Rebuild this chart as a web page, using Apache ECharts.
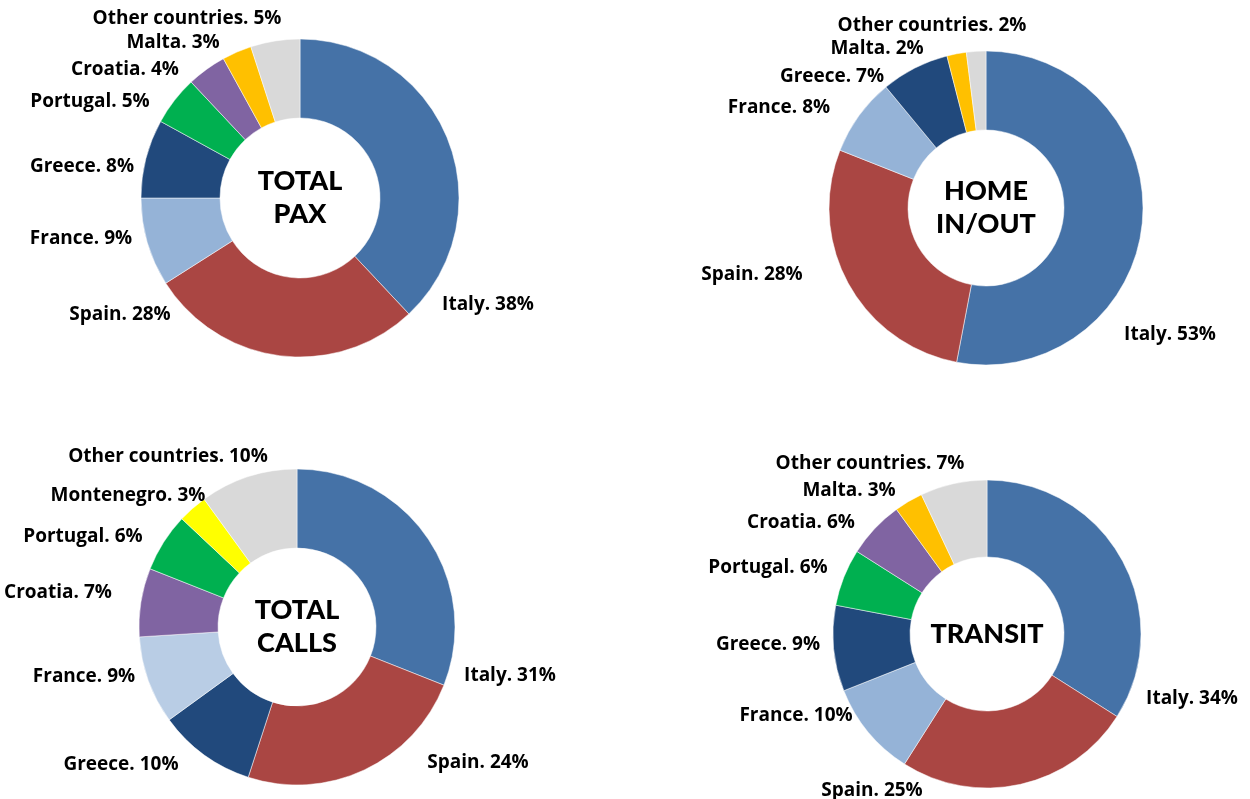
<!DOCTYPE html>
<html>
<head>
<meta charset="utf-8">
<script src="https://cdn.jsdelivr.net/npm/echarts@6/dist/echarts.min.js"></script>
<style>
html,body{margin:0;padding:0;background:#fff;}
#chart{width:1250px;height:799px;}
</style>
</head>
<body>
<div id="chart"></div>
<script>
// ---- data ----
const paxCountries = ['Italy', 'Spain', 'France', 'Greece', 'Portugal', 'Croatia', 'Malta', 'Other countries'];
const paxValues = [38, 28, 9, 8, 5, 4, 3, 5];

const homeCountries = ['Italy', 'Spain', 'France', 'Greece', 'Malta', 'Other countries'];
const homeValues = [53, 28, 8, 7, 2, 2];

const callsCountries = ['Italy', 'Spain', 'Greece', 'France', 'Croatia', 'Portugal', 'Montenegro', 'Other countries'];
const callsValues = [31, 24, 10, 9, 7, 6, 3, 10];

const transitCountries = ['Italy', 'Spain', 'France', 'Greece', 'Portugal', 'Croatia', 'Malta', 'Other countries'];
const transitValues = [34, 25, 10, 9, 6, 6, 3, 7];

const chartTitles = ['TOTAL\nPAX', 'HOME\nIN/OUT', 'TOTAL\nCALLS', 'TRANSIT'];

// ---- styles / layout ----
const countryColors = {
  'Italy': '#4572A7',
  'Spain': '#AA4643',
  'France': '#95B3D7',
  'Greece': '#21497C',
  'Portugal': '#00B050',
  'Croatia': '#8064A2',
  'Malta': '#FFC000',
  'Montenegro': '#FFFF00',
  'Other countries': '#D9D9D9'
};
const callsFranceColor = '#B9CDE5';

const labelShiftY = 2;
const layouts = [
  {center: [300, 198], radius: [80, 159],
   labelOffsets: [[188, 105], [-180, 115], [-219, 39], [-218, -33], [-210, -98], [-175, -130], [-127, -157], [-113, -181]]},
  {center: [986, 208], radius: [78, 157],
   labelOffsets: [[184, 125], [-234, 65], [-207, -102], [-154, -133], [-109, -161], [-54, -184]]},
  {center: [297, 627], radius: [79, 158],
   labelOffsets: [[213, 47], [181, 134], [-176, 136], [-213, 48], [-239, -36], [-214, -92], [-169, -133], [-129, -172]]},
  {center: [987, 634], radius: [77, 154],
   labelOffsets: [[205, 63], [-115, 155], [-191, 80], [-219, 9], [-219, -68], [-186, -113], [-138, -145], [-117, -172]]}
];

const sets = [
  [paxCountries, paxValues],
  [homeCountries, homeValues],
  [callsCountries, callsValues],
  [transitCountries, transitValues]
];

const labelFont = '"Open Sans"';
const titleFont = 'Lato';

const series = sets.map(function (s, i) {
  const names = s[0], vals = s[1], lay = layouts[i];
  return {
    type: 'pie',
    center: lay.center,
    radius: lay.radius,
    startAngle: 90,
    clockwise: true,
    avoidLabelOverlap: false,
    animation: false,
    silent: true,
    itemStyle: {borderColor: '#ffffff', borderWidth: 0.5},
    label: {
      show: true,
      position: 'outside',
      formatter: function (p) { return p.name + '. ' + p.value + '%'; },
      color: '#000',
      fontFamily: labelFont,
      fontWeight: 'bold',
      fontSize: 19
    },
    labelLine: {show: false},
    labelLayout: function (p) {
      const off = lay.labelOffsets[p.dataIndex];
      return {
        x: lay.center[0] + off[0],
        y: lay.center[1] + off[1] + labelShiftY,
        align: 'center',
        verticalAlign: 'middle'
      };
    },
    data: names.map(function (n, j) {
      let c = countryColors[n];
      if (i === 2 && n === 'France') c = callsFranceColor;
      return {name: n, value: vals[j], itemStyle: {color: c}};
    })
  };
});

const graphics = layouts.map(function (lay, i) {
  return {
    type: 'text',
    x: lay.center[0],
    y: lay.center[1],
    style: {
      text: chartTitles[i],
      align: 'center',
      verticalAlign: 'middle',
      fontFamily: titleFont,
      fontWeight: 900,
      fontSize: 27,
      lineHeight: 33,
      fill: '#000'
    }
  };
});

const chart = echarts.init(document.getElementById('chart'), null, {renderer: 'canvas'});
chart.setOption({
  backgroundColor: '#ffffff',
  animation: false,
  series: series,
  graphic: graphics
});
</script>
</body>
</html>
